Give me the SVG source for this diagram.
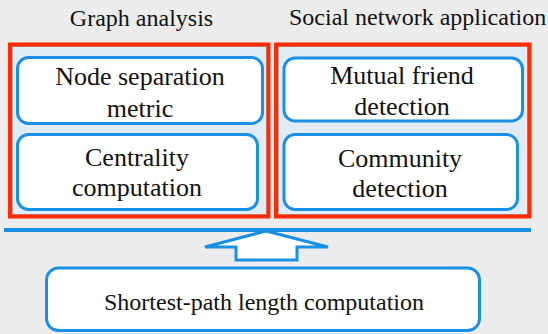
<svg xmlns="http://www.w3.org/2000/svg" width="548" height="334" viewBox="0 0 548 334">
<style>
text{font-family:'Liberation Serif','Times New Roman',Times,'Nimbus Roman','Nimbus Roman No9 L',FreeSerif,Tinos,'Noto Serif','DejaVu Serif',serif;fill:#111}
.hdr{font-size:24px}
.nt{font-size:26px;text-anchor:middle}
.grp{fill:none;stroke:#ff2a00;stroke-width:4}
.gin{fill:#e1ebf6;stroke:#a8a8a8;stroke-width:1}
.node{fill:#fff;stroke:#1a8fe6;stroke-width:3}
</style>
<rect width="548" height="334" fill="#ececec"/>
<text class="hdr" x="141.5" y="26" text-anchor="middle">Graph analysis</text>
<text class="hdr" x="289" y="25">Social network application</text>
<g id="group-graph">
<rect class="gin" x="12.5" y="46.5" width="254" height="168"/>
<rect class="grp" x="10" y="44.5" width="258.5" height="172"/>
</g>
<g id="group-social">
<rect class="gin" x="278.5" y="46.5" width="249" height="168"/>
<rect class="grp" x="276" y="44.5" width="253.5" height="172"/>
</g>
<g id="node-separation">
<rect class="node" x="17.5" y="57.5" width="245" height="66" rx="11"/>
<text class="nt" x="140" y="85">Node separation</text>
<text class="nt" x="140" y="116.5">metric</text>
</g>
<g id="centrality">
<rect class="node" x="17.5" y="134.5" width="240" height="75" rx="11"/>
<text class="nt" x="137" y="165.5">Centrality</text>
<text class="nt" x="137" y="195.5">computation</text>
</g>
<g id="mutual-friend">
<rect class="node" x="284" y="58" width="238.5" height="63" rx="11"/>
<text class="nt" x="402" y="83.5">Mutual friend</text>
<text class="nt" x="402" y="115">detection</text>
</g>
<g id="community">
<rect class="node" x="284" y="134.5" width="233.5" height="75" rx="11"/>
<text class="nt" x="400" y="166.5">Community</text>
<text class="nt" x="400" y="196.5">detection</text>
</g>
<g id="connectors">
<line x1="4" y1="230" x2="531" y2="230" stroke="#1a8fe6" stroke-width="4"/>
<polygon points="266,231 328,247 297,247 297,260 236,260 236,247 205,247" fill="#fff" stroke="#1a8fe6" stroke-width="3" stroke-linejoin="miter"/>
</g>
<g id="shortest-path">
<rect class="node" x="46.5" y="268" width="433" height="62.5" rx="12"/>
<text class="nt" x="264" y="310" style="font-size:24px">Shortest-path length computation</text>
</g>
</svg>
